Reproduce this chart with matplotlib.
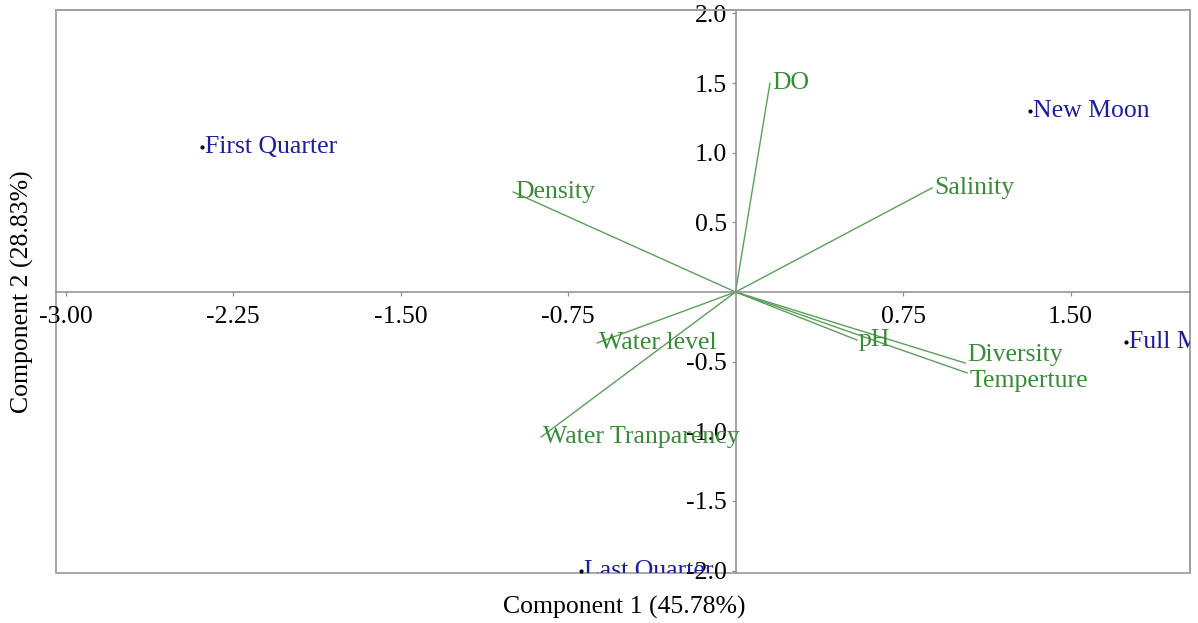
import matplotlib
matplotlib.use("Agg")
import matplotlib.pyplot as plt
from matplotlib.patches import Rectangle
from matplotlib.transforms import offset_copy

# PCA biplot: lunar phases (scores) and water parameters (loadings)
phases = ["First Quarter", "New Moon", "Full Moon", "Last Quarter"]
phase_x = [-2.39, 1.32, 1.75, -0.69]
phase_y = [1.04, 1.30, -0.36, -2.00]

variables = ["DO", "Density", "Salinity", "Water level", "Water Tranparency",
             "pH", "Diversity", "Temperture"]
var_x = [0.154, -0.996, 0.880, -0.620, -0.871, 0.544, 1.028, 1.037]
var_y = [1.50, 0.718, 0.747, -0.366, -1.041, -0.345, -0.510, -0.581]
# vertical nudge of each label (points) so Diversity/Temperture don't collide
label_dy = [0, 0, 0, 0, 0, 0, 6, -6]

x_ticks = [-3.00, -2.25, -1.50, -0.75, 0.75, 1.50]
y_ticks = [-2.0, -1.5, -1.0, -0.5, 0.5, 1.0, 1.5, 2.0]

x_label = "Component 1 (45.78%)"
y_label = "Component 2 (28.83%)"

plt.rcParams["font.family"] = ["Liberation Serif", "DejaVu Serif"]
FS = 18.5

fig = plt.figure(figsize=(11.98, 6.23), dpi=100)
ax = fig.add_axes([56 / 1198, 50 / 623, 1134 / 1198, 563 / 623])
ax.set_xlim(-3.043, 2.035)
ax.set_ylim(-2.017, 2.024)

frame_col = "#a0a0a0"
axis_col = "#8c8c8c"
ax.spines["left"].set_position(("data", 0))
ax.spines["bottom"].set_position(("data", 0))
for s in ["left", "bottom"]:
    ax.spines[s].set_color(axis_col)
    ax.spines[s].set_linewidth(1.1)
for s in ["top", "right"]:
    ax.spines[s].set_color(frame_col)
    ax.spines[s].set_linewidth(1.3)
# outer box edges that the moved spines no longer cover
ax.add_patch(Rectangle((0, 0), 1, 1, transform=ax.transAxes, fill=False,
                       edgecolor=frame_col, linewidth=1.3, clip_on=False))

ax.set_xticks(x_ticks)
ax.set_xticklabels([f"{v:.2f}" for v in x_ticks])
ax.set_yticks(y_ticks)
ax.set_yticklabels([f"{v:.1f}" for v in y_ticks])
ax.tick_params(axis="both", labelsize=FS, colors="black", length=3,
               width=0.9, direction="out")
ax.tick_params(axis="x", pad=7)
ax.tick_params(axis="y", pad=3)
ax.tick_params(axis="both", color=axis_col)

line_col = "#5c9e5c"
var_col = "#3a8a3a"
for name, vx, vy, dy in zip(variables, var_x, var_y, label_dy):
    ax.plot([0, vx], [0, vy], color=line_col, linewidth=1.0, zorder=2)
    tr = offset_copy(ax.transData, fig=fig, x=1.5, y=dy, units="points")
    ax.text(vx, vy, name, color=var_col, fontsize=FS,
            ha="left", va="center", zorder=3, transform=tr)

phase_col = "#1e1e9a"
ax.scatter(phase_x, phase_y, s=4, color="black", zorder=4)
for name, px, py in zip(phases, phase_x, phase_y):
    tr = offset_copy(ax.transData, fig=fig, x=2, y=0, units="points")
    ax.text(px, py, name, color=phase_col, fontsize=FS,
            ha="left", va="center", zorder=4, clip_on=True, transform=tr)

fig.text(624 / 1198, 1 - 607 / 623, x_label, fontsize=FS,
         ha="center", va="center")
fig.text(22 / 1198, 1 - 292 / 623, y_label, fontsize=FS,
         ha="center", va="center", rotation=90)

fig.savefig("out.png", dpi=100)
plt.close(fig)
